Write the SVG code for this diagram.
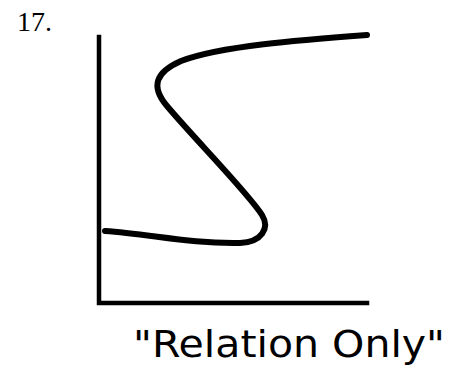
<svg xmlns="http://www.w3.org/2000/svg" width="460" height="381" viewBox="0 0 460 381">
<style>
.ax{fill:none;stroke:#000;stroke-width:4.5;stroke-linecap:square}
.cv{fill:none;stroke:#000;stroke-width:6;stroke-linecap:round;stroke-linejoin:round}
.num{font-family:"Liberation Serif","Times New Roman",serif;font-size:28px;fill:#000}
.hand{font-family:"DejaVu Sans","Liberation Sans",sans-serif;font-size:38px;fill:#000;font-weight:normal}
</style>
<rect width="460" height="381" fill="#fff"/>
<g id="label17"><text class="num" x="17" y="31">17.</text></g>
<g id="axes">
<path class="ax" d="M99 37 L99 303 L367 303"/>
</g>
<g id="curve">
<path class="cv" d="M105 231 C150 234 190 244 240 243 C262 242 270 228 262 215 C250 195 192 136 167 106 C150 86 156 72 181 61 C220 46 300 40 367 35"/>
</g>
<g id="caption">
<text class="hand" x="133" y="357" textLength="312" lengthAdjust="spacingAndGlyphs">"Relation Only"</text>
</g>
</svg>
